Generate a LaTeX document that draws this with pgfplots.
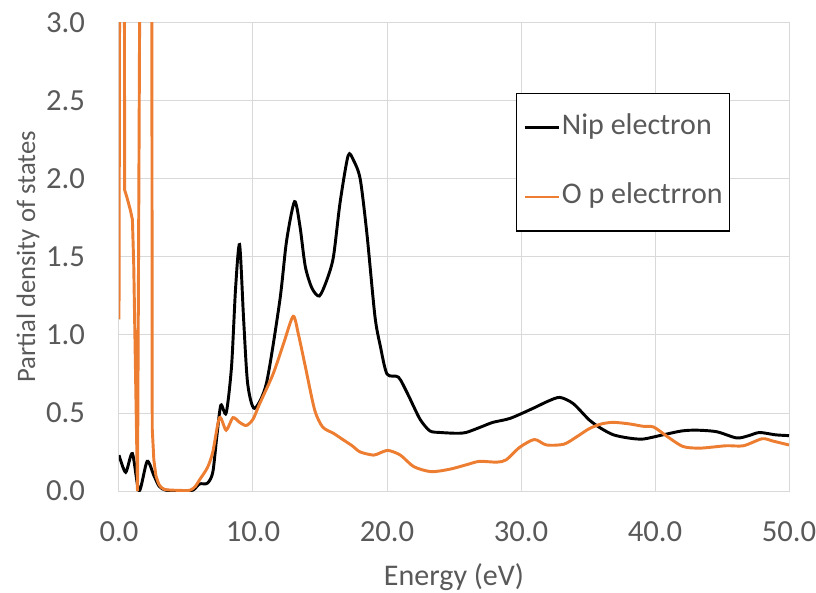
\documentclass[border=0pt]{standalone}
\usepackage{fontspec}
\setmainfont{Carlito}
\usepackage{pgfplots}
\pgfplotsset{compat=1.18}
\definecolor{txtgray}{HTML}{595959}
\definecolor{gridgray}{HTML}{D9D9D9}
\definecolor{xlorange}{HTML}{ED7D31}
\begin{document}
\begin{tikzpicture}
\path[use as bounding box] (-89.25pt,-75.75pt) rectangle (522.75pt,368.25pt);
\begin{axis}[
  scale only axis,
  width=502.5pt, height=351pt,
  xmin=0, xmax=50, ymin=0, ymax=3,
  xtick={0,10,20,30,40,50},
  ytick={0,0.5,1,1.5,2,2.5,3},
  grid=major,
  major grid style={draw=gridgray, line width=0.75pt},
  axis line style={draw=gridgray, line width=0.75pt},
  tick style={draw=none},
  tick label style={font=\fontsize{23}{27}\selectfont, text=txtgray},
  /pgf/number format/.cd, fixed, fixed zerofill, precision=1, assume math mode=true,
  /pgfplots/.cd,
  xticklabel shift=19.5pt,
  yticklabel shift=22pt,
  xlabel={Energy (eV)},
  ylabel={Partial density of states},
  xlabel style={font=\fontsize{22.5}{27}\selectfont, text=txtgray, at={(axis description cs:0.5,0)}, anchor=center, yshift=-64.5pt},
  ylabel style={font=\fontsize{20}{24}\selectfont, text=txtgray, at={(axis description cs:-0.1358,0.5)}, anchor=center},
  legend style={
    at={(axis description cs:0.5925,0.8504)}, anchor=north west,
    draw=black, line width=1pt, fill=white,
    font=\fontsize{22.5}{27}\selectfont, text=txtgray,
    inner xsep=5pt, inner ysep=16pt,
    row sep=33pt, column sep=1pt,
    nodes={inner sep=0pt, text height=14.5pt, text depth=4.5pt, anchor=west},
  },
  legend cell align=left,
  legend image code/.code={\draw[#1, line width=2pt] (0pt,0pt) -- (26pt,0pt);},
]
\addplot[black, line width=2.2pt, smooth, tension=0.45] coordinates {
(0,0.23)(0.5,0.12)(1.0,0.24)(1.5,0.0)(2.1,0.19)(2.6,0.1)(3.0,0.03)(3.5,0.005)
(4.5,0.003)(5.5,0.005)(6.0,0.045)(6.6,0.05)(7.0,0.12)(7.3,0.35)(7.6,0.55)(8.0,0.5)
(8.4,0.8)(8.7,1.3)(9.0,1.58)(9.3,1.1)(9.6,0.69)(10.1,0.53)(11.0,0.69)(12.0,1.22)
(12.5,1.6)(13.1,1.855)(13.5,1.7)(13.9,1.44)(14.4,1.3)(14.95,1.25)(15.5,1.35)(16.0,1.5)
(16.5,1.85)(17.1,2.15)(17.5,2.12)(18.0,2.0)(18.5,1.65)(19.1,1.12)(19.5,0.93)(20.0,0.75)
(20.85,0.73)(21.5,0.63)(22.0,0.54)(22.5,0.455)(23.2,0.385)(24.0,0.375)(25.2,0.37)(25.9,0.375)
(27.0,0.41)(27.9,0.44)(29.2,0.466)(30.9,0.53)(32.0,0.575)(32.9,0.60)(33.9,0.56)(35.1,0.455)
(36.0,0.40)(36.9,0.36)(38.0,0.34)(39.1,0.333)(40.6,0.36)(42.0,0.385)(43.1,0.39)(44.6,0.38)
(46.1,0.34)(47.0,0.355)(47.8,0.375)(49.0,0.36)(50,0.355)
};
\addlegendentry{Nip electron}
\addplot[xlorange, line width=2.2pt, forget plot] coordinates {
(0,1.1)(0.15,8)(0.35,8)(0.42,1.93)(0.6,1.88)(0.85,1.8)(1.0,1.74)(1.1,1.45)(1.38,0)
(1.8,8)(2.4,8)(2.48,0.4)(2.6,0.2)(2.75,0.1)
};
\addplot[xlorange, line width=2.2pt, smooth, tension=0.45] coordinates {
(2.75,0.1)(3.0,0.04)(3.4,0.01)(4.5,0.004)(5.3,0.005)(5.7,0.03)(6.0,0.07)
(6.6,0.15)(7.0,0.25)(7.5,0.47)(8.0,0.39)(8.5,0.47)(9.0,0.44)(9.5,0.42)(10.0,0.46)
(10.5,0.56)(11.5,0.75)(12.3,0.95)(13.0,1.12)(13.4,1.0)(13.9,0.80)(14.6,0.52)(15.2,0.41)
(16.0,0.37)(16.7,0.33)(17.4,0.29)(18.0,0.25)(19.0,0.23)(19.5,0.245)(20.1,0.26)(21.0,0.23)
(22.0,0.156)(23.3,0.124)(24.7,0.14)(26.0,0.17)(26.9,0.19)(28.2,0.185)(28.9,0.2)(29.9,0.28)
(31.0,0.33)(31.9,0.295)(33.2,0.30)(34.2,0.35)(35.1,0.40)(36.0,0.43)(36.9,0.44)(38.1,0.43)
(39.1,0.415)(39.9,0.41)(40.9,0.35)(42.1,0.285)(43.4,0.275)(45.3,0.29)(46.6,0.29)(48.0,0.335)
(48.8,0.32)(50,0.295)
};
\addlegendentry{O p electrron}
\end{axis}
\end{tikzpicture}
\end{document}
